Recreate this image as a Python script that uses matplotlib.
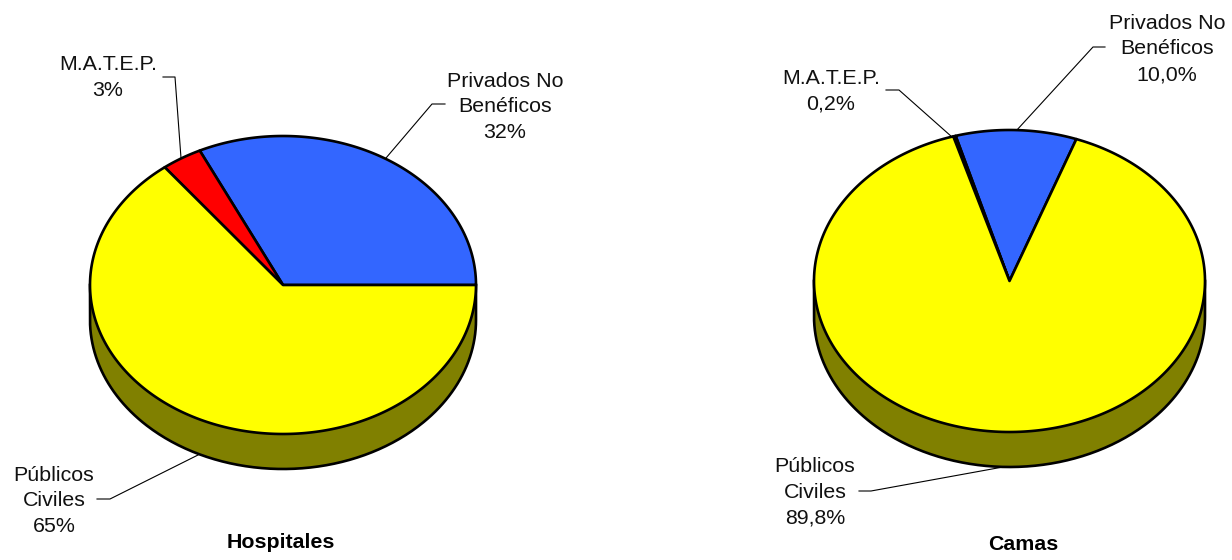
import numpy as np
import matplotlib
matplotlib.use('Agg')
import matplotlib.pyplot as plt

plt.rcParams['font.family'] = ['Liberation Sans', 'DejaVu Sans']

# data
categories = ['Privados No\nBenéficos', 'M.A.T.E.P.', 'Públicos\nCiviles']
# slice sizes (labels are the rounded ones printed on it)
hospitales = [32.1, 3.4, 64.5]
camas = [10.0, 0.2, 89.8]
hospitales_labels = ['32%', '3%', '65%']
camas_labels = ['10,0%', '0,2%', '89,8%']
colors = ['#3366FF', '#FF0000', '#FFFF00']
side_colors = ['#1A3380', '#800000', '#808000']


def ell(cx, cy, rx, ry, a):
    a = np.radians(a)
    return cx + rx * np.cos(a), cy - ry * np.sin(a)


def pie3d(ax, values, cx, cy, rx, ry, depth, start):
    total = float(sum(values))
    angles = start + np.cumsum([0] + list(values)) / total * 360

    # visible rim is the lower half of the ellipse
    for i in range(len(values)):
        a0 = max(angles[i], 180)
        a1 = min(angles[i + 1], 360)
        if a1 <= a0:
            continue
        t = np.linspace(a0, a1, 200)
        x, y = ell(cx, cy, rx, ry, t)
        ax.fill(np.r_[x, x[::-1]], np.r_[y, y[::-1] + depth],
                fc=side_colors[i], ec='none', zorder=2)

    t = np.linspace(180, 360, 300)
    x, y = ell(cx, cy, rx, ry, t)
    ax.plot(np.r_[x[0], x, x[-1]], np.r_[y[0], y + depth, y[-1]], color='k', lw=1.9, zorder=3)

    for i in range(len(values)):
        t = np.linspace(angles[i], angles[i + 1], 300)
        x, y = ell(cx, cy, rx, ry, t)
        ax.fill(np.r_[cx, x], np.r_[cy, y], fc=colors[i], ec='k', lw=1.9,
                joinstyle='round', zorder=4)


def leader(ax, xs, ys):
    ax.plot(xs, ys, color='k', lw=0.8, zorder=1)


def label(ax, x, y, s):
    ax.text(x, y, s, ha='center', va='center', fontsize=15.4, color='#111111',
            linespacing=1.46)


fig = plt.figure(figsize=(12.32, 5.6), dpi=100)
ax = fig.add_axes([0, 0, 1, 1])
ax.set_xlim(0, 1232)
ax.set_ylim(560, 0)
ax.axis('off')

# Hospitales
pie3d(ax, hospitales, 283, 285, 193, 149, 35, 0)
leader(ax, [163, 175, 181], [77, 77, 158])
leader(ax, [445, 432, 386], [104, 104, 158])
leader(ax, [97, 110, 198], [499, 499, 455])
label(ax, 505, 107, categories[0] + '\n' + hospitales_labels[0])
label(ax, 108, 77.5, categories[1] + '\n' + hospitales_labels[1])
label(ax, 54, 501, categories[2] + '\n' + hospitales_labels[2])
ax.text(281, 542, 'Hospitales', ha='center', va='center', fontsize=15.4, fontweight='bold')

# Camas
pie3d(ax, camas, 1009.5, 281, 195.5, 151, 35, 70)
leader(ax, [886, 899, 952], [90, 90, 137])
leader(ax, [1105, 1093, 1016], [47, 47, 131])
leader(ax, [859, 871, 1003], [491, 491, 467])
label(ax, 1167, 49, categories[0] + '\n' + camas_labels[0])
label(ax, 831, 91, categories[1] + '\n' + camas_labels[1])
label(ax, 815, 492, categories[2] + '\n' + camas_labels[2])
ax.text(1023, 544, 'Camas', ha='center', va='center', fontsize=15.4, fontweight='bold')

fig.savefig('out.png', dpi=100)
